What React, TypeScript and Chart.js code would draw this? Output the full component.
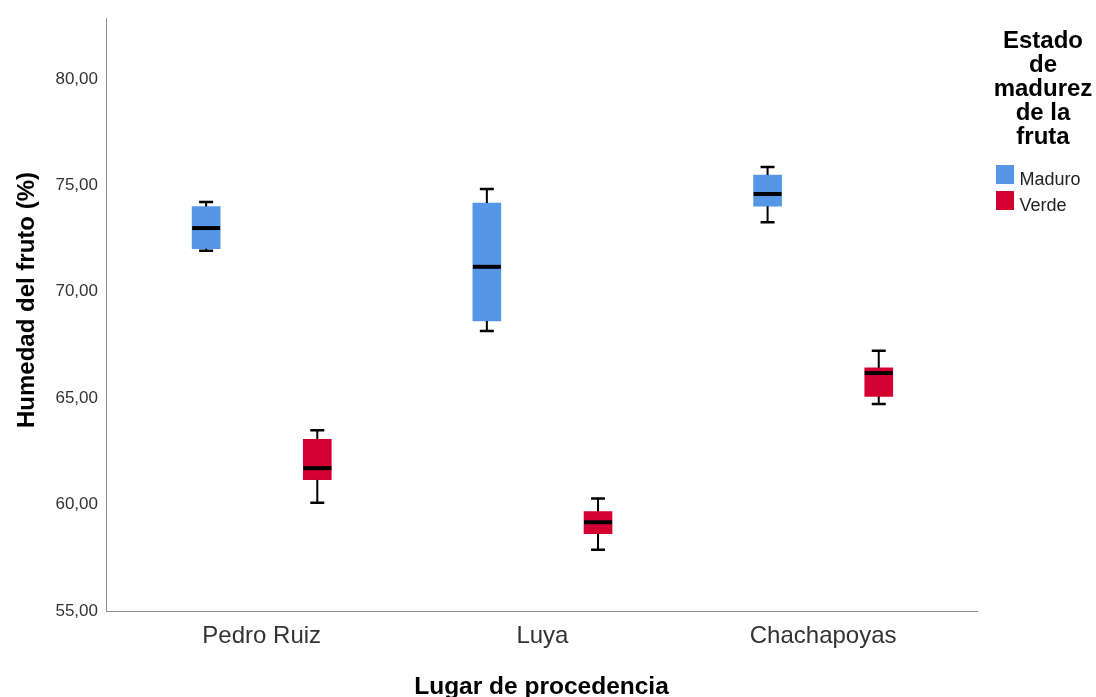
import React, { useEffect, useRef } from 'react';
import { Chart, registerables } from 'chart.js';

Chart.register(...registerables);

// ---- Data ----
const categories = ['Pedro Ruiz', 'Luya', 'Chachapoyas'];
const seriesNames = ['Maduro', 'Verde'];

const maduroMin = [71.92, 68.16, 73.26];
const maduroQ1 = [72.02, 68.63, 74.02];
const maduroMedian = [72.99, 71.17, 74.59];
const maduroQ3 = [74.0, 74.17, 75.48];
const maduroMax = [74.21, 74.83, 75.86];

const verdeMin = [60.08, 57.88, 64.73];
const verdeQ1 = [61.17, 58.63, 65.08];
const verdeMedian = [61.71, 59.17, 66.18];
const verdeQ3 = [63.07, 59.67, 66.42];
const verdeMax = [63.49, 60.29, 67.23];

const yTicks = [55, 60, 65, 70, 75, 80];

const xTitle = 'Lugar de procedencia';
const yTitle = 'Humedad del fruto (%)';
const legendTitle = ['Estado', 'de', 'madurez', 'de la', 'fruta'];

// ---- Styles ----
const COLORS = ['#5597e6', '#d50032'];
const GROUP_OFFSETS = [-0.198, 0.198];
const FONT = '"Liberation Sans", Arial, sans-serif';

const series = [
  { name: seriesNames[0], min: maduroMin, q1: maduroQ1, med: maduroMedian, q3: maduroQ3, max: maduroMax },
  { name: seriesNames[1], min: verdeMin, q1: verdeQ1, med: verdeMedian, q3: verdeQ3, max: verdeMax },
];

const boxPlugin = {
  id: 'boxWhiskers',
  afterDatasetsDraw(chart: any) {
    const { ctx } = chart;
    const xs = chart.scales.x;
    const ys = chart.scales.y;
    ctx.save();
    ctx.strokeStyle = '#000';
    series.forEach((s, d) => {
      categories.forEach((_, i) => {
        const cx = xs.getPixelForValue(i + GROUP_OFFSETS[d]);
        const pMin = ys.getPixelForValue(s.min[i]);
        const pMax = ys.getPixelForValue(s.max[i]);
        const pQ1 = ys.getPixelForValue(s.q1[i]);
        const pQ3 = ys.getPixelForValue(s.q3[i]);
        const pMed = ys.getPixelForValue(s.med[i]);
        // stems
        ctx.lineWidth = 2;
        ctx.beginPath();
        ctx.moveTo(cx, pMax);
        ctx.lineTo(cx, pQ3);
        ctx.moveTo(cx, pQ1);
        ctx.lineTo(cx, pMin);
        ctx.stroke();
        // caps
        ctx.lineWidth = 2.5;
        ctx.beginPath();
        ctx.moveTo(cx - 7, pMax);
        ctx.lineTo(cx + 7, pMax);
        ctx.moveTo(cx - 7, pMin);
        ctx.lineTo(cx + 7, pMin);
        ctx.stroke();
        // median
        ctx.lineWidth = 4;
        ctx.beginPath();
        ctx.moveTo(cx - 14, pMed);
        ctx.lineTo(cx + 14, pMed);
        ctx.stroke();
      });
    });
    ctx.restore();
  },
};

const textPlugin = {
  id: 'texts',
  afterDraw(chart: any) {
    const { ctx } = chart;
    ctx.save();
    ctx.fillStyle = '#000';
    // y title
    ctx.font = `bold 24px ${FONT}`;
    ctx.textAlign = 'center';
    ctx.textBaseline = 'alphabetic';
    ctx.save();
    ctx.translate(34, 300);
    ctx.rotate(-Math.PI / 2);
    ctx.fillText(yTitle, 0, 0);
    ctx.restore();
    // x title
    const xs = chart.scales.x;
    ctx.font = `bold 24.5px ${FONT}`;
    ctx.fillText(xTitle, (xs.left + xs.right) / 2, 694);
    // legend title
    ctx.font = `bold 24px ${FONT}`;
    legendTitle.forEach((line, k) => {
      ctx.fillText(line, 1043, 47.7 + 24 * k);
    });
    // legend items
    ctx.textAlign = 'left';
    ctx.font = `18px ${FONT}`;
    series.forEach((s, d) => {
      const top = 165 + 26 * d;
      ctx.fillStyle = COLORS[d];
      ctx.fillRect(996, top, 18, 19);
      ctx.fillStyle = '#222';
      ctx.fillText(s.name, 1019.5, top + 20);
    });
    ctx.restore();
  },
};

export default function App() {
  const ref = useRef<HTMLCanvasElement>(null);
  useEffect(() => {
    if (!ref.current) return;
    const chart = new Chart(ref.current, {
      type: 'bar',
      data: {
        datasets: series.map((s, d) => ({
          label: s.name,
          data: categories.map((_, i) => ({ x: i + GROUP_OFFSETS[d], y: [s.q1[i], s.q3[i]] })),
          backgroundColor: COLORS[d],
          borderWidth: 0,
          barThickness: 28,
          grouped: false,
        })) as any,
      },
      options: {
        animation: false,
        responsive: false,
        devicePixelRatio: 1,
        layout: { padding: { left: 0, right: 119, top: 15, bottom: 0 } },
        plugins: {
          legend: { display: false },
          tooltip: { enabled: false },
        },
        scales: {
          x: {
            type: 'linear',
            offset: false,
            min: -0.5547,
            max: 2.548,
            grid: { display: false, drawTicks: false },
            border: { display: true, color: '#8f8f8f', width: 1 },
            afterBuildTicks: (scale: any) => {
              scale.ticks = categories.map((_, i) => ({ value: i }));
            },
            afterFit: (scale: any) => {
              scale.height = 86;
            },
            ticks: {
              padding: 11,
              autoSkip: false,
              maxRotation: 0,
              color: '#333',
              font: { family: FONT, size: 24 },
              callback: (v: any) => categories[Math.round(Number(v))] ?? '',
            },
          },
          y: {
            type: 'linear',
            min: 55,
            max: 82.85,
            grid: { display: false, drawTicks: false },
            border: { display: true, color: '#8f8f8f', width: 1 },
            afterBuildTicks: (scale: any) => {
              scale.ticks = yTicks.map((v) => ({ value: v }));
            },
            afterFit: (scale: any) => {
              scale.width = 106;
            },
            ticks: {
              padding: 8,
              color: '#333',
              font: { family: FONT, size: 17 },
              callback: (v: any) => Number(v).toFixed(2).replace('.', ','),
            },
          },
        },
      },
      plugins: [boxPlugin, textPlugin],
    });
    return () => chart.destroy();
  }, []);
  return (
    <div style={{ position: 'fixed', left: 0, top: 0, width: 1096, height: 697, background: '#fff' }}>
      <canvas ref={ref} width={1096} height={697} style={{ display: 'block' }} />
    </div>
  );
}
